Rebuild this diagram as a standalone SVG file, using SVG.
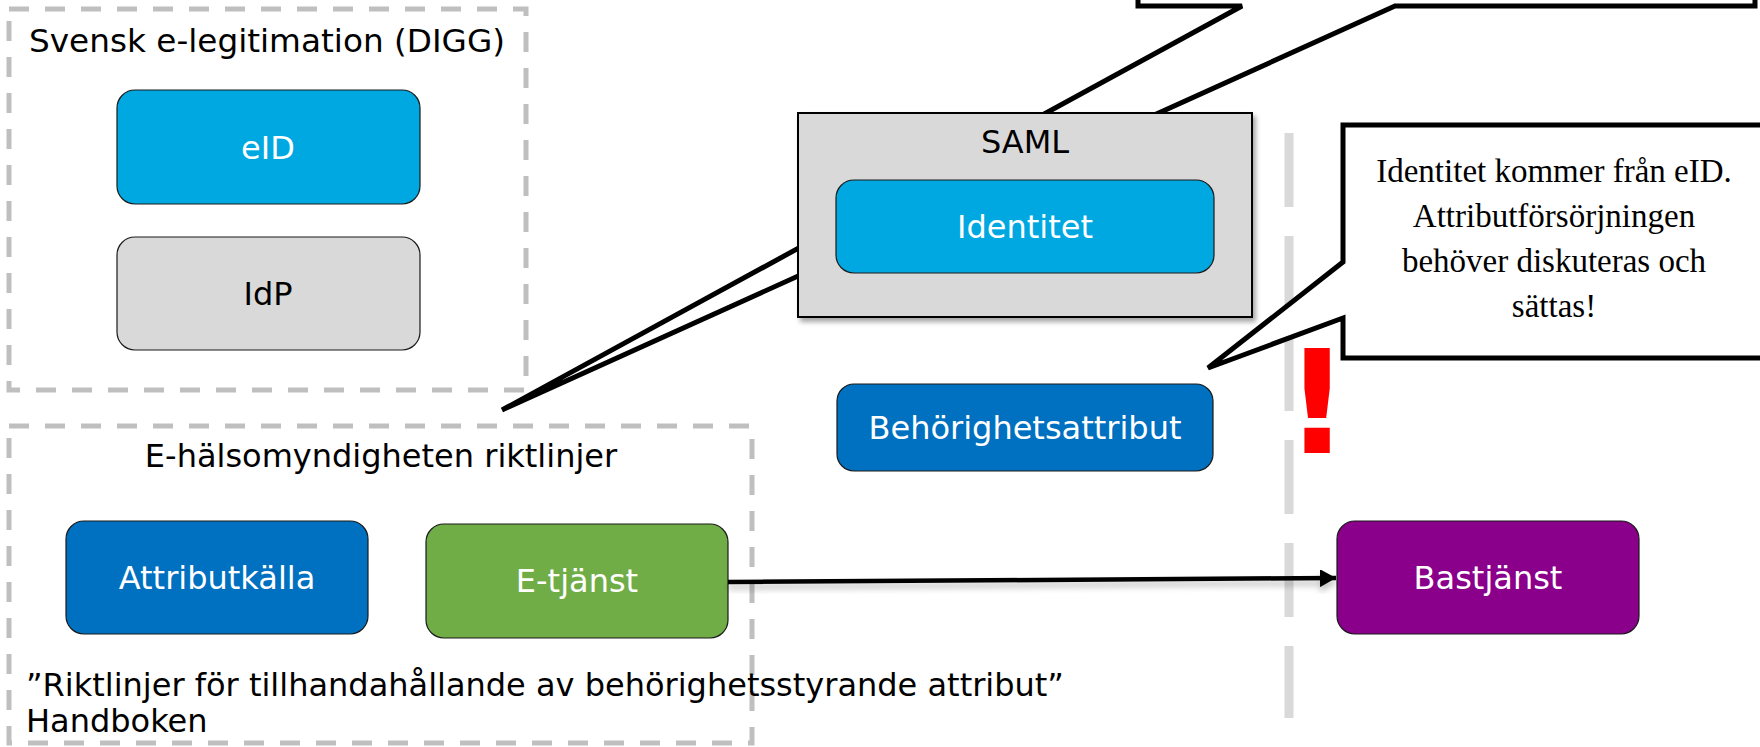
<svg xmlns="http://www.w3.org/2000/svg" width="1760" height="747" viewBox="0 0 1760 747">
  <style>
    .lbl { font-family: "DejaVu Sans", Verdana, sans-serif; font-size: 32px; }
    .ctr { text-anchor: middle; }
    .w { fill: #ffffff; }
    .k { fill: #000000; }
    .node { stroke: #1a1a1a; stroke-width: 1.2; }
    .dashbox { fill: none; stroke: #bfbfbf; stroke-width: 5; stroke-dasharray: 20 16; }
    .callout { fill: #ffffff; stroke: #000000; stroke-width: 5; stroke-linejoin: miter; }
    .note { font-family: "Liberation Serif", "Times New Roman", serif; font-size: 33px; fill: #000000; text-anchor: middle; }
  </style>
  <defs>
    <filter id="shadow" x="-10%" y="-10%" width="130%" height="140%">
      <feDropShadow dx="3" dy="4" stdDeviation="2.5" flood-color="#000000" flood-opacity="0.35"/>
    </filter>
    <filter id="lineShadow" x="-5%" y="-200%" width="110%" height="600%">
      <feDropShadow dx="0" dy="5" stdDeviation="3" flood-color="#000000" flood-opacity="0.25"/>
    </filter>
    <marker id="arrow" markerUnits="userSpaceOnUse" markerWidth="17" markerHeight="18" refX="16" refY="9" orient="auto">
      <path d="M0,0 L16,9 L0,18 z" fill="#000000"/>
    </marker>
  </defs>

  <g id="container-digg">
    <rect class="dashbox" x="9" y="9" width="517" height="381"/>
    <text class="lbl k" x="29" y="52" textLength="476" lengthAdjust="spacingAndGlyphs">Svensk e-legitimation (DIGG)</text>
  </g>

  <g id="node-eid">
    <rect class="node" x="117" y="90" width="303" height="114" rx="18" ry="18" fill="#00a8e1"/>
    <text class="lbl w ctr" x="268" y="159">eID</text>
  </g>

  <g id="node-idp">
    <rect class="node" x="117" y="237" width="303" height="113" rx="18" ry="18" fill="#d9d9d9"/>
    <text class="lbl k ctr" x="268" y="305">IdP</text>
  </g>

  <g id="container-ehm">
    <rect class="dashbox" x="9" y="426" width="743" height="317"/>
    <text class="lbl k ctr" x="381" y="467">E-hälsomyndigheten riktlinjer</text>
    <text class="lbl k" x="26" y="696">”Riktlinjer för tillhandahållande av behörighetsstyrande attribut”</text>
    <text class="lbl k" x="26" y="732">Handboken</text>
  </g>

  <g id="node-attributkalla">
    <rect class="node" x="66" y="521" width="302" height="113" rx="18" ry="18" fill="#0070c0"/>
    <text class="lbl w ctr" x="217" y="589">Attributkälla</text>
  </g>

  <g id="node-etjanst">
    <rect class="node" x="426" y="524" width="302" height="114" rx="18" ry="18" fill="#70ad47"/>
    <text class="lbl w ctr" x="577" y="592">E-tjänst</text>
  </g>

  <g id="separator">
    <path d="M1289,133 V207 M1289,236 V411 M1289,440 V514 M1289,543 V617 M1289,646 V718" stroke="#d9d9d9" stroke-width="9" fill="none"/>
  </g>

  <g id="callout-top">
    <path class="callout" d="M1138,-20 L1138,6 L1242,6 L502,410 L1395,6 L1755,6 L1755,-20"/>
  </g>

  <g id="node-saml">
    <rect x="798" y="113" width="454" height="204" fill="#d9d9d9" stroke="#000000" stroke-width="2" filter="url(#shadow)"/>
    <text class="lbl k ctr" x="1025" y="153">SAML</text>
  </g>

  <g id="node-identitet">
    <rect class="node" x="836" y="180" width="378" height="93" rx="18" ry="18" fill="#00a8e1"/>
    <text class="lbl w ctr" x="1025" y="238">Identitet</text>
  </g>

  <g id="node-behorighetsattribut">
    <rect class="node" x="837" y="384" width="376" height="87" rx="17" ry="17" fill="#0070c0"/>
    <text class="lbl w ctr" x="1025" y="439">Behörighetsattribut</text>
  </g>

  <g id="node-bastjanst">
    <rect class="node" x="1337" y="521" width="302" height="113" rx="18" ry="18" fill="#8b008b"/>
    <text class="lbl w ctr" x="1488" y="589">Bastjänst</text>
  </g>

  <g id="callout-right">
    <path class="callout" d="M1343,262 L1343,125 L1790,125 L1790,358 L1343,358 L1343,318 L1208,368 Z"/>
    <text class="note" x="1554" y="182">Identitet kommer från eID.</text>
    <text class="note" x="1554" y="227">Attributförsörjningen</text>
    <text class="note" x="1554" y="272">behöver diskuteras och</text>
    <text class="note" x="1554" y="317">sättas!</text>
  </g>

  <g id="exclamation">
    <text x="1317" y="453" font-family="DejaVu Sans, sans-serif" font-weight="bold" font-size="144" fill="#ff0000" text-anchor="middle">!</text>
  </g>

  <g id="connectors">
    <line x1="728" y1="582" x2="1336" y2="578" stroke="#000000" stroke-width="4.5" marker-end="url(#arrow)" filter="url(#lineShadow)"/>
  </g>
</svg>
